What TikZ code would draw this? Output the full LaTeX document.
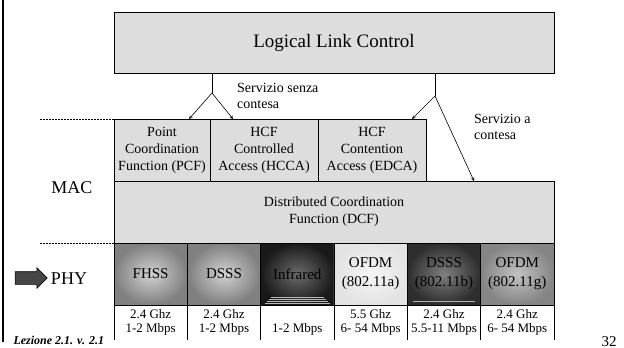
\documentclass[tikz,border=0pt]{standalone}
\usepackage{fontspec}
\setmainfont{Liberation Serif}
\usetikzlibrary{shapes,arrows,positioning}

\definecolor{boxgray}{RGB}{221,221,221}
\definecolor{arrowgray}{RGB}{70,70,70}

\begin{document}
\begin{tikzpicture}[x=1pt, y=-1pt, >=stealth]
     		%define block styles
     		\tikzset{
     			box/.style={rectangle, draw=black, fill=boxgray, line width=0.7pt, inner sep=0pt, outer sep=0pt, align=center, font=\fontsize{14}{17}\selectfont},
     			phy/.style 2 args={rectangle, draw=black, line width=0.7pt, inner color=white!#1!black, outer color=white!#2!black, inner sep=0pt, outer sep=0pt, minimum width=73.33pt, minimum height=62pt, align=center, font=\fontsize{15}{19}\selectfont},
     			rate/.style={rectangle, inner sep=0pt, outer sep=0pt, minimum width=73.33pt, minimum height=35pt, align=center, font=\fontsize{13}{14}\selectfont},
     			note/.style={align=left, inner sep=0pt, font=\fontsize{14}{16}\selectfont},
     			arrow/.style={->, line width=0.6pt},
     			sep/.style={dash pattern=on 2pt off 1pt, line width=0.6pt},}
     		\useasboundingbox (0,0) rectangle (624,348);
     		%define nodes
     		\node[box, minimum width=440pt, minimum height=61pt, anchor=north west, font=\fontsize{19}{22}\selectfont](llc) at (114,12){Logical Link Control};
     		\node[box, minimum width=96pt, minimum height=62pt, anchor=north west](pcf) at (114,119){Point\\Coordination\\Function (PCF)};
     		\node[box, minimum width=108pt, minimum height=62pt, right=0pt of pcf](hcca){HCF\\Controlled\\Access (HCCA)};
     		\node[box, minimum width=108pt, minimum height=62pt, right=0pt of hcca](edca){HCF\\Contention\\Access (EDCA)};
     		\node[box, minimum width=440pt, minimum height=62pt, anchor=north west](dcf) at (pcf.south west){Distributed Coordination\\Function (DCF)};
     		\node[phy={82}{50}, anchor=north west](fhss) at (dcf.south west){FHSS};
     		\node[phy={82}{50}, right=0pt of fhss](dsss){DSSS};
     		\node[phy={42}{10}, right=0pt of dsss](ir){Infrared};
     		\node[phy={96}{89}, right=0pt of ir](ofdma){OFDM\\(802.11a)};
     		\node[phy={50}{18}, right=0pt of ofdma](dsssb){DSSS\\(802.11b)};
     		\node[phy={76}{52}, right=0pt of dsssb](ofdmg){OFDM\\(802.11g)};
     		\node[rate, below=0pt of fhss](rfhss){2.4 Ghz\\1-2 Mbps};
     		\node[rate, below=0pt of dsss](rdsss){2.4 Ghz\\1-2 Mbps};
     		\node[rate, below=0pt of ir](rir){\phantom{2.4 Ghz}\\1-2 Mbps};
     		\node[rate, below=0pt of ofdma](rofdma){5.5 Ghz\\6- 54 Mbps};
     		\node[rate, below=0pt of dsssb](rdsssb){2.4 Ghz\\5.5-11 Mbps};
     		\node[rate, below=0pt of ofdmg](rofdmg){2.4 Ghz\\6- 54 Mbps};
     		\node[note, anchor=west](senza) at (237,96){Servizio senza\\contesa};
     		\node[note, anchor=west](contesa) at (474,127){Servizio a\\contesa};
     		\node[font=\fontsize{18}{18}\selectfont](mac) at (72,188){MAC};
     		\node[font=\fontsize{18}{18}\selectfont](phylabel) at (69,279){PHY};
     		\node[single arrow, draw=black, fill=arrowgray, line width=0.6pt, minimum height=32pt, inner xsep=0pt, inner ysep=6pt, single arrow head extend=4pt](phyarrow) at (28,278){};
     		\node[font=\fontsize{12}{12}\bfseries\itshape\selectfont, anchor=base west](lezione) at (10,344.5){Lezione 2.1. v. 2.1};
     		\node[font=\fontsize{15}{15}\selectfont, anchor=base](page) at (609,346){32};
     		\coordinate (splitL) at (212,93);
     		\coordinate (splitR) at (435,96);
     		\coordinate (sepTop) at (40,119);
     		\coordinate (sepBot) at (40,243);
     		%define connectors
     		\draw[line width=0.7pt] (llc.south -| splitL) -- (splitL);
     		\draw[arrow] (splitL) -- ([xshift=27pt]pcf.north);
     		\draw[arrow] (splitL) -- ([xshift=-31pt]hcca.north);
     		\draw[line width=0.7pt] (llc.south -| splitR) -- (splitR);
     		\draw[arrow] (splitR) -- ([xshift=40pt]edca.north);
     		\draw[arrow] (splitR) -- ([xshift=140pt]dcf.north);
     		\draw[sep] (sepTop) -- (pcf.north west);
     		\draw[sep] (sepBot) -- (fhss.north west);
     		\foreach \n in {rfhss,rdsss,rir,rofdma,rdsssb,rofdmg}
     			\draw[line width=0.7pt] (\n.north west) -- (\n.south west);
     		\draw[line width=0.7pt] (rofdmg.north east) -- (rofdmg.south east);
     		\foreach \d in {2,4,6,8}
     			\draw[gray!55, line width=0.6pt] ([shift={(\d+2,-\d)}]ir.south west) -- ([shift={(-\d-2,-\d)}]ir.south east);
     		\draw[gray!60, line width=0.6pt] ([shift={(6,-4)}]dsssb.south west) -- ([shift={(-6,-4)}]dsssb.south east);
     		\draw[line width=2.5pt] (3,0) -- (3,342);
     	\end{tikzpicture}
\end{document}
